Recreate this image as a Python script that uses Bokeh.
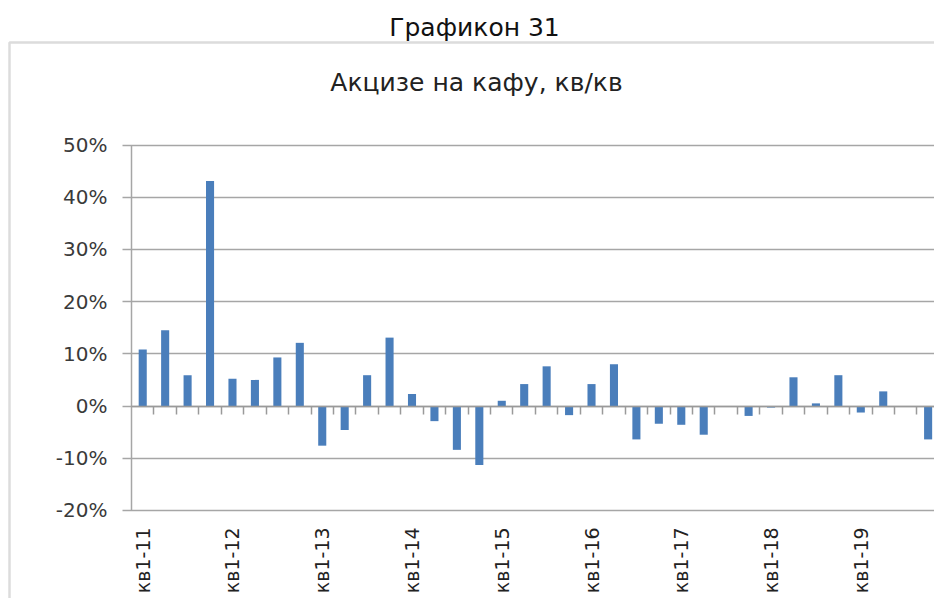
from math import pi
from bokeh.plotting import figure
from bokeh.models import (Range1d, LinearAxis, FixedTicker, NumeralTickFormatter,
                          Label, BoxAnnotation, ColumnDataSource)
from bokeh.embed import file_html
from bokeh.resources import INLINE

# ---- data -------------------------------------------------------------
quarters = [
    "кв1-11", "кв2-11", "кв3-11", "кв4-11",
    "кв1-12", "кв2-12", "кв3-12", "кв4-12",
    "кв1-13", "кв2-13", "кв3-13", "кв4-13",
    "кв1-14", "кв2-14", "кв3-14", "кв4-14",
    "кв1-15", "кв2-15", "кв3-15", "кв4-15",
    "кв1-16", "кв2-16", "кв3-16", "кв4-16",
    "кв1-17", "кв2-17", "кв3-17", "кв4-17",
    "кв1-18", "кв2-18", "кв3-18", "кв4-18",
    "кв1-19", "кв2-19", "кв3-19", "кв4-19",
]
values_pct = [
    10.8, 14.5, 5.9, 43.1,
    5.2, 5.0, 9.3, 12.1,
    -7.6, -4.6, 5.9, 13.1,
    2.3, -2.9, -8.4, -11.3,
    1.0, 4.2, 7.6, -1.75,
    4.2, 8.0, -6.4, -3.4,
    -3.6, -5.5, 0.0, -1.9,
    -0.3, 5.5, 0.5, 5.9,
    -1.25, 2.8, 0.0, -6.4,
]
y_ticks = [-0.2, -0.1, 0.0, 0.1, 0.2, 0.3, 0.4, 0.5]
page_title = "Графикон 31"
chart_title = "Акцизе на кафу, кв/кв"

# ---- layout / style ---------------------------------------------------
W, H = 934, 598
PLOT_LEFT = 131          # px of the value axis
CAT_PX = 22.44           # px per category
ZERO_PX = 405.5          # px (from top) of the 0% line
UNIT_PX = 522.0          # px per 100%
FONT = "DejaVu Sans"
BAR = "#4a7ebb"
GRID = "#a6a6a6"

n = len(quarters)
idx = list(range(n))
src = ColumnDataSource(dict(x=idx, q=quarters, v=[v / 100 for v in values_pct]))
label_idx = [i for i, q in enumerate(quarters) if q.startswith("кв1")]
y_lo, y_hi = min(y_ticks), max(y_ticks)

x_start = -0.5 - PLOT_LEFT / CAT_PX
x_end = -0.5 + (W - PLOT_LEFT) / CAT_PX
y_end = ZERO_PX / UNIT_PX
y_start = -(H - ZERO_PX) / UNIT_PX

p = figure(width=W, height=H, output_backend="svg", toolbar_location=None,
           x_range=Range1d(x_start, x_end), y_range=Range1d(y_start, y_end),
           x_axis_location=None, y_axis_location=None, min_border=0)
p.outline_line_color = None
p.grid.visible = False
p.background_fill_color = "white"
p.border_fill_color = "white"

# value axis (its inward ticks act as the horizontal gridlines)
yax = LinearAxis(fixed_location=-0.5, bounds=(y_lo, y_hi),
                 ticker=FixedTicker(ticks=y_ticks),
                 formatter=NumeralTickFormatter(format="0%"),
                 axis_line_color=GRID, axis_line_width=1.5,
                 major_tick_line_color=GRID, major_tick_line_width=1.5,
                 major_tick_in=W - PLOT_LEFT, major_tick_out=9,
                 minor_tick_line_color=None,
                 major_label_standoff=15,
                 major_label_text_font=FONT, major_label_text_font_size="20px",
                 major_label_text_color="#3a3a3a", level="underlay")
p.add_layout(yax, "left")

# bars
p.vbar(x="x", top="v", bottom=0, width=0.36, source=src,
       fill_color=BAR, line_color=None)

# category axis on the zero line (tick marks between categories)
zax = LinearAxis(fixed_location=0, bounds=(-0.5, n - 0.5),
                 ticker=FixedTicker(ticks=[i + 0.5 for i in idx[:-1]]),
                 major_tick_in=0, major_tick_out=8,
                 axis_line_color="#9a9a9a", axis_line_width=1.5,
                 major_tick_line_color="#9a9a9a", major_tick_line_width=1.5,
                 minor_tick_line_color=None,
                 major_label_text_color=None)
p.add_layout(zax, "below")

# year labels under the plot area
xlab = LinearAxis(fixed_location=y_lo,
                  ticker=FixedTicker(ticks=label_idx),
                  major_label_overrides={i: quarters[i] for i in label_idx},
                  axis_line_color=None, major_tick_line_color=None,
                  minor_tick_line_color=None,
                  major_label_orientation=pi / 2, major_label_standoff=11,
                  major_label_text_font=FONT, major_label_text_font_size="19px",
                  major_label_text_color="#222222")
p.add_layout(xlab, "below")

# titles
p.add_layout(Label(x=474, y=H - 27, x_units="screen", y_units="screen",
                   text=page_title, text_align="center", text_baseline="alphabetic",
                   text_font=FONT, text_font_size="25px", text_color="#111111"))
p.add_layout(Label(x=476, y=H - 82, x_units="screen", y_units="screen",
                   text=chart_title, text_align="center", text_baseline="alphabetic",
                   text_font=FONT, text_font_size="25px", text_color="#222222"))

# outer chart border
p.add_layout(BoxAnnotation(left=9, right=W + 40, top=H - 42, bottom=-40,
                           left_units="screen", right_units="screen",
                           top_units="screen", bottom_units="screen",
                           fill_alpha=0, line_color="#8c8c8c", line_width=2.5,
                           level="underlay"))

open("out.html", "w").write(file_html(p, INLINE))
